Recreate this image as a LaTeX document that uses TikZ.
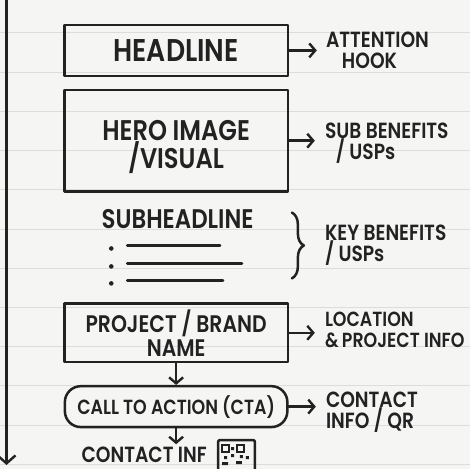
\documentclass[tikz,border=0pt]{standalone}
\usepackage{fontspec}
\setmainfont{Poppins}[FakeStretch=0.85,BoldFont={* SemiBold}]
\usetikzlibrary{arrows.meta,decorations.pathreplacing}
\definecolor{ink}{HTML}{222222}
\definecolor{paper}{HTML}{F5F5F3}
\definecolor{rulec}{HTML}{DCDCDC}
\newcommand{\fsz}[2]{\fontsize{#1}{#2}\selectfont\bfseries}
\begin{document}
\begin{tikzpicture}[x=1pt,y=-1pt,
  inkline/.style={draw=ink,line width=2.5pt,line cap=round,line join=round},
  box/.style={inkline,minimum width=224pt,inner sep=0pt,text=ink,align=center},
  arr/.style={inkline,-{Straight Barb[length=6pt,width=14pt,line width=2.4pt]}},
  lbl/.style={anchor=west,inner sep=0pt,text=ink,align=left,font=\fsz{22}{21}},
  txt/.style={inner sep=0pt,text=ink}]
\fill[paper] (0,0) rectangle (470,470);
\foreach \k in {0,...,11} \draw[rulec,line width=1pt] (0,{33+39.3*\k}) -- (470,{33+39.3*\k});
\useasboundingbox (0,0) rectangle (470,470);
% left timeline
\coordinate (vtop) at (6,-2);
\coordinate (vbot) at (6,466);
\draw[inkline,-{Straight Barb[length=8pt,width=18pt,line width=2.4pt]}] (vtop) -- (vbot);
% boxes
\node[box,minimum height=51pt,font=\fsz{31.5}{28}] (headline) at (176,50.5) {HEADLINE};
\node[box,minimum height=102pt,font=\fsz{28.5}{28}] (hero) at (176,141) {\rule{0pt}{32pt}HERO IMAGE\\/VISUAL};
\node[txt,font=\fsz{27}{24}] (subhead) at (177.5,220) {SUBHEADLINE};
\node[box,minimum height=59pt,font=\fsz{24}{24}] (project) at (176,333.5) {PROJECT / BRAND\\NAME};
\node[box,minimum width=223pt,minimum height=41pt,rounded corners=16pt,font=\fsz{20.5}{24}] (cta) at (176,407.5) {CALL TO ACTION (CTA)};
\node[txt,font=\fsz{22}{24},text depth=0pt,anchor=base] (contactinf) at (144,463) {CONTACT INF};
% bullets
\foreach \y/\e in {246/220,264/242,281/223}{
  \fill[ink] (111,\y+3) circle (2.3pt);
  \draw[inkline,line width=2.8pt] (127,\y) -- (\e,\y);
}
% brace
\draw[inkline,decorate,decoration={brace,amplitude=12pt}] (292,213) -- (292,279);
% labels
\node[lbl] (attn) at (326,50) {ATTENTION\\\hspace*{16pt}HOOK};
\node[lbl] (sub) at (325,144) {SUB BENEFITS\\\hspace*{11pt}/ USPs};
\node[lbl] (key) at (325,246) {KEY BENEFITS\\/ USPs};
\node[lbl,font=\fsz{20.5}{21}] (loc) at (325,331) {LOCATION\\\&\,PROJECT INFO};
\node[lbl] (contact) at (326,413) {CONTACT\\INFO / QR};
% arrows
\draw[arr,shorten >=9pt] (headline.east) -- (headline.east -| attn.west);
\draw[arr,shorten >=10pt] (hero.east) -- (hero.east -| sub.west);
\draw[arr,shorten >=10pt] (project.east) -- (project.east -| loc.west);
\draw[arr,shorten >=10pt] (cta.east) -- (cta.east -| contact.west);
\draw[arr] (project.south) -- (cta.north);
\draw[arr,shorten >=2pt] (cta.south) -- (cta.south |- contactinf.north);
% QR icon (cut by the page edge)
\node[inkline,minimum width=37pt,minimum height=40pt,rounded corners=2pt,inner sep=0pt] (qr) at (236.5,461) {};
\draw[ink,line width=1.6pt] (222,446) rectangle (229,453) (237,446) rectangle (244,453);
\fill[ink] (231,448) rectangle (234,451) (231,455) rectangle (234,458) (224,457) rectangle (227,460) (240,456) rectangle (243,459) (246,457) rectangle (249,460) (222,463) rectangle (228,466) (236,462) rectangle (242,465);
\end{tikzpicture}
\end{document}
